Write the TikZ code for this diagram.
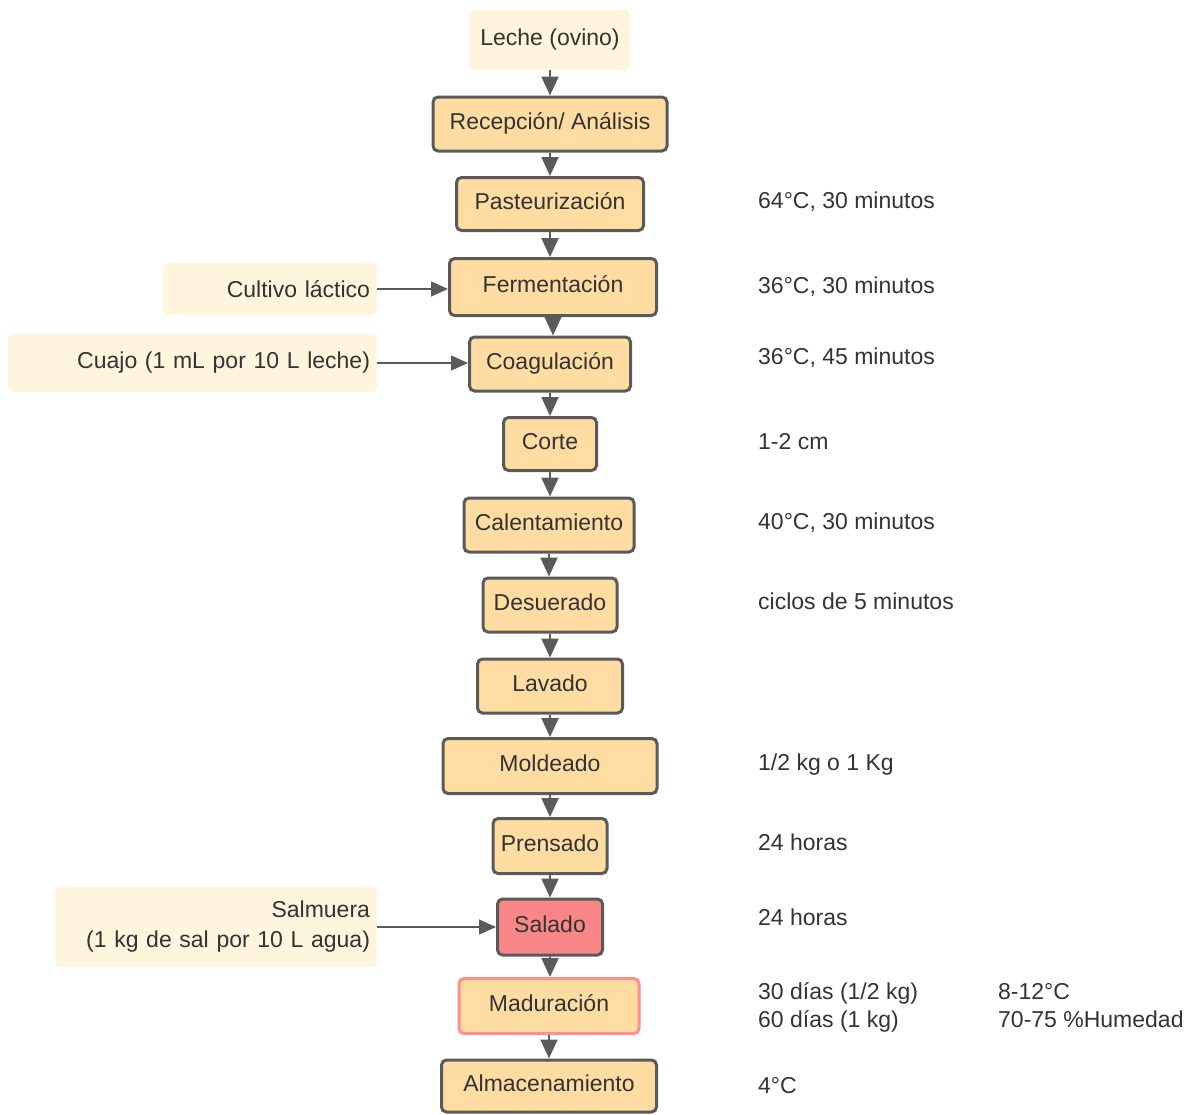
\documentclass[tikz,border=0pt]{standalone}
\usepackage{fontspec}
\setmainfont{Liberation Sans}
\usetikzlibrary{arrows.meta}
\definecolor{boxfill}{HTML}{FEDCA2}
\definecolor{creamfill}{HTML}{FFF4DC}
\definecolor{edge}{HTML}{5A5A5A}
\definecolor{saltfill}{HTML}{F98787}
\definecolor{pinkedge}{HTML}{FF8E8E}
\definecolor{ink}{HTML}{333333}
\begin{document}
\begin{tikzpicture}[x=1pt,y=-1pt,
  every node/.style={font=\fontsize{23}{30}\selectfont, text=ink},
  stepbox/.style={draw=edge, line width=3pt, fill=boxfill, rounded corners=5pt,
    inner sep=0pt, minimum height=54pt, text height=17pt, text depth=7pt},
  inbox/.style={fill=creamfill, rounded corners=6pt, inner ysep=0pt, inner xsep=7pt,
    align=right},
  note/.style={anchor=west, inner sep=0pt, text height=17pt, text depth=5pt, align=left},
  flow/.style={draw=edge, line width=2pt, -{Triangle[length=19pt,width=17pt]}},
  feed/.style={draw=edge, line width=1.4pt, -{Triangle[length=17pt,width=15pt]}}
]
\useasboundingbox (0,0) rectangle (1197,1114);

% raw material
\node[fill=creamfill, rounded corners=6pt, minimum width=160pt, minimum height=60pt, inner sep=0pt,
  text height=17pt, text depth=7pt]
  (leche) at (550,40) {Leche (ovino)};

% process steps
\node[stepbox, minimum width=234pt] (recep) at (550,124) {Recepción/ Análisis};
\node[stepbox, minimum width=187pt, minimum height=53pt] (past) at (550,204) {Pasteurización};
\node[stepbox, minimum width=207pt, minimum height=57pt] (ferm) at (553,287) {Fermentación};
\node[stepbox, minimum width=161pt] (coag) at (550,364) {Coagulación};
\node[stepbox, minimum width=93pt, minimum height=53pt] (corte) at (550,444) {Corte};
\node[stepbox, minimum width=170pt] (calen) at (549,525) {Calentamiento};
\node[stepbox, minimum width=134pt] (desu) at (550,605) {Desuerado};
\node[stepbox, minimum width=145pt] (lavado) at (550,686) {Lavado};
\node[stepbox, minimum width=214pt, minimum height=55pt] (molde) at (550,766) {Moldeado};
\node[stepbox, minimum width=114pt, minimum height=55pt] (prens) at (550,846) {Prensado};
\node[stepbox, fill=saltfill, minimum width=105pt, minimum height=56pt] (salado) at (550,927) {Salado};
\node[stepbox, draw=pinkedge, minimum width=180pt, minimum height=55pt] (madur) at (549,1006) {Maduración};
\node[stepbox, minimum width=215pt, minimum height=52pt] (almac) at (549,1086) {Almacenamiento};

% vertical flow
\foreach \a/\b in {leche/recep, recep/past, past/ferm, ferm/coag, coag/corte,
  corte/calen, calen/desu, desu/lavado, lavado/molde, molde/prens, prens/salado,
  salado/madur, madur/almac}
  \draw[flow] (\a.south) -- (\a.south |- \b.north);

% added inputs
\node[inbox, text width=200pt, minimum height=52pt] (cult) at (270,289) {Cultivo láctico};
\node[inbox, text width=355pt, minimum height=58pt] (cuajo) at (192.5,363) {Cuajo (1 mL por 10 L leche)};
\node[inbox, text width=308pt, minimum height=80pt] (salm) at (216,927)
  {Salmuera\\(1 kg de sal por 10 L agua)};

\draw[feed] (cult.east) -- (cult.east -| ferm.west);
\draw[feed] (cuajo.east) -- (cuajo.east -| coag.west);
\draw[feed] (salm.east) -- (salm.east -| salado.west);

% process conditions
\node[note] (n1) at (758,202) {64°C, 30 minutos};
\node[note] (n2) at (758,287) {36°C, 30 minutos};
\node[note] (n3) at (758,358) {36°C, 45 minutos};
\node[note] (n4) at (758,443) {1-2 cm};
\node[note] (n5) at (758,523) {40°C, 30 minutos};
\node[note] (n6) at (758,603) {ciclos de 5 minutos};
\node[note] (n7) at (758,764) {1/2 kg o 1 Kg};
\node[note] (n8) at (758,844) {24 horas};
\node[note] (n9) at (758,919) {24 horas};
\node[note] (n10) at (758,993) {30 días (1/2 kg)};
\node[note] (n11) at (758,1021) {60 días (1 kg)};
\node[note] (n12) at (998,993) {8-12°C};
\node[note] (n13) at (998,1021) {70-75 \%Humedad};
\node[note] (n14) at (758,1087) {4°C};
\end{tikzpicture}
\end{document}
